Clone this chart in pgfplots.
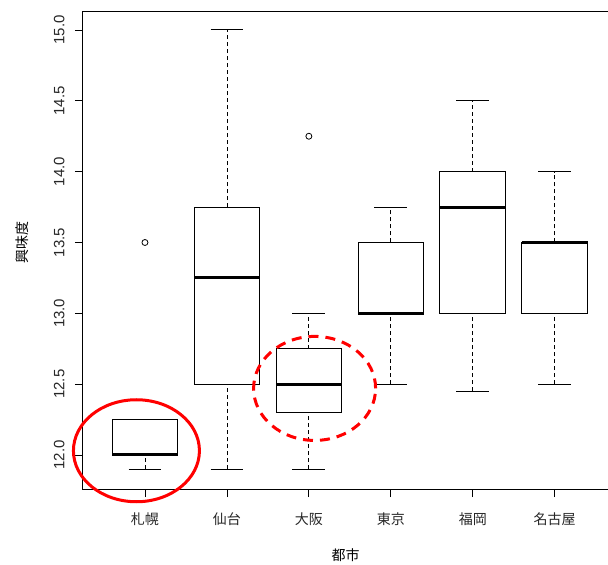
\documentclass[border=0pt]{standalone}
\usepackage{pgfplots}
\pgfplotsset{compat=1.18}
\usepgfplotslibrary{statistics}
\usepackage{fontspec}
\setmainfont{Liberation Sans}
\newfontfamily\cjk{Noto Sans CJK JP}
\begin{document}
\begin{tikzpicture}
\begin{axis}[
  scale only axis, width=525pt, height=477pt,
  xmin=0.244, xmax=6.65, ymin=11.76, ymax=15.127,
  axis line style={draw=none},
  clip=false,
  tick align=outside, xtick pos=bottom, ytick pos=left,
  major tick length=8pt,
  tick style={black, line width=0.8pt},
  xtick={1,2,3,4,5,6},
  xticklabels={{\cjk 札幌},{\cjk 仙台},{\cjk 大阪},{\cjk 東京},{\cjk 福岡},{\cjk 名古屋}},
  xticklabel style={font=\fontsize{14}{16}\selectfont, text=black!85, yshift=-12pt},
  ytick={12,12.5,13,13.5,14,14.5,15},
  yticklabel style={font=\fontsize{15}{17}\selectfont, text=black!85, rotate=90, anchor=south, yshift=7pt},
  /pgf/number format/assume math mode=true,
  /pgf/number format/.cd, fixed, fixed zerofill, precision=1, /pgfplots/.cd,
  xlabel={\cjk 都市},
  ylabel={\cjk 興味度},
  xlabel style={font=\fontsize{14}{16}\selectfont, at={(axis description cs:0.5,0)}, anchor=center, yshift=-66pt},
  ylabel style={font=\fontsize{14}{16}\selectfont, at={(axis description cs:0,0.5)}, anchor=center, yshift=61pt, xshift=8pt},
  boxplot/draw direction=y,
  boxplot/box extend=0.8,
  boxplot/whisker extend=0.4,
  boxplot/draw/lower whisker/.code={%
    \draw[dash pattern=on 4pt off 3pt, line width=0.8pt] (boxplot box cs:\pgfplotsboxplotvalue{lower whisker},0.5) -- (boxplot box cs:\pgfplotsboxplotvalue{lower quartile},0.5);
    \draw[solid, line width=1pt] (boxplot whisker cs:\pgfplotsboxplotvalue{lower whisker},0) -- (boxplot whisker cs:\pgfplotsboxplotvalue{lower whisker},1);
  },
  boxplot/draw/upper whisker/.code={%
    \draw[dash pattern=on 4pt off 3pt, line width=0.8pt] (boxplot box cs:\pgfplotsboxplotvalue{upper quartile},0.5) -- (boxplot box cs:\pgfplotsboxplotvalue{upper whisker},0.5);
    \draw[solid, line width=1pt] (boxplot whisker cs:\pgfplotsboxplotvalue{upper whisker},0) -- (boxplot whisker cs:\pgfplotsboxplotvalue{upper whisker},1);
  },
  boxplot/draw/box/.code={%
    \draw[solid, line width=1pt] (boxplot box cs:\pgfplotsboxplotvalue{lower quartile},0) rectangle (boxplot box cs:\pgfplotsboxplotvalue{upper quartile},1);
  },
  boxplot/draw/median/.code={%
    \draw[solid, line width=3pt] (boxplot box cs:\pgfplotsboxplotvalue{median},0) -- (boxplot box cs:\pgfplotsboxplotvalue{median},1);
  },
]
% frame: left, bottom, top (right edge cropped)
\draw[black, line width=1pt] (rel axis cs:1,1) -- (rel axis cs:0,1) -- (rel axis cs:0,0) -- (rel axis cs:1,0);

\addplot[black, mark=o, mark size=3pt, mark options={solid, line width=0.8pt}, boxplot prepared={draw position=1, lower whisker=11.9, lower quartile=12.0, median=12.0, upper quartile=12.25, upper whisker=12.25}] coordinates {(0,13.5)};
\addplot[black, boxplot prepared={draw position=2, lower whisker=11.9, lower quartile=12.5, median=13.25, upper quartile=13.75, upper whisker=15.0}] coordinates {};
\addplot[black, mark=o, mark size=3pt, mark options={solid, line width=0.8pt}, boxplot prepared={draw position=3, lower whisker=11.9, lower quartile=12.3, median=12.5, upper quartile=12.75, upper whisker=13.0}] coordinates {(0,14.25)};
\addplot[black, boxplot prepared={draw position=4, lower whisker=12.5, lower quartile=13.0, median=13.0, upper quartile=13.5, upper whisker=13.75}] coordinates {};
\addplot[black, boxplot prepared={draw position=5, lower whisker=12.45, lower quartile=13.0, median=13.75, upper quartile=14.0, upper whisker=14.5}] coordinates {};
\addplot[black, boxplot prepared={draw position=6, lower whisker=12.5, lower quartile=13.0, median=13.5, upper quartile=13.5, upper whisker=14.0}] coordinates {};

% annotations
\draw[red, line width=3pt] (axis cs:0.896,12.03) ellipse [x radius=63pt, y radius=51pt];
\draw[red, line width=3pt, dash pattern=on 10pt off 7pt] (axis cs:3.07,12.47) ellipse [x radius=61pt, y radius=52pt];
\end{axis}
\pgfresetboundingbox
\path ([shift={(-83pt,-76pt)}]current axis.south west) rectangle ([shift={(0pt,12pt)}]current axis.north east);
\end{tikzpicture}
\end{document}
